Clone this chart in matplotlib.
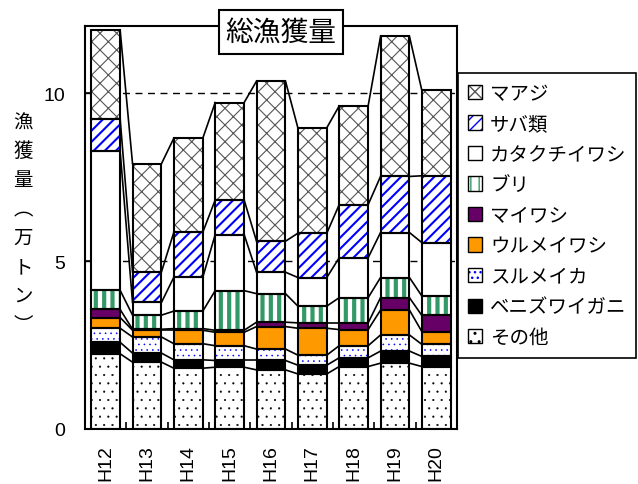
import numpy as np
import matplotlib
matplotlib.use('Agg')
import matplotlib.pyplot as plt
from matplotlib.patches import Patch

plt.rcParams['font.family'] = ['Noto Sans CJK JP', 'DejaVu Sans']

# data (万トン), stacked bottom -> top
years = ['H12', 'H13', 'H14', 'H15', 'H16', 'H17', 'H18', 'H19', 'H20']
sonota = [2.24, 1.99, 1.81, 1.84, 1.76, 1.64, 1.86, 1.96, 1.86]
benizuwai = [0.34, 0.27, 0.25, 0.20, 0.28, 0.26, 0.26, 0.36, 0.30]
surumeika = [0.42, 0.48, 0.48, 0.44, 0.34, 0.30, 0.36, 0.48, 0.36]
urumeiwashi = [0.32, 0.20, 0.40, 0.40, 0.67, 0.80, 0.48, 0.74, 0.38]
maiwashi = [0.24, 0.03, 0.05, 0.06, 0.13, 0.16, 0.20, 0.37, 0.48]
buri = [0.57, 0.42, 0.52, 1.18, 0.85, 0.50, 0.75, 0.60, 0.58]
katakuchi = [4.14, 0.38, 1.01, 1.67, 0.64, 0.85, 1.19, 1.34, 1.59]
saba = [0.97, 0.91, 1.34, 1.03, 0.92, 1.32, 1.58, 1.67, 1.99]
maaji = [2.64, 3.22, 2.80, 2.90, 4.77, 3.14, 2.94, 4.17, 2.54]

names = ['その他', 'ベニズワイガニ', 'スルメイカ', 'ウルメイワシ', 'マイワシ',
         'ブリ', 'カタクチイワシ', 'サバ類', 'マアジ']
series = [sonota, benizuwai, surumeika, urumeiwashi, maiwashi,
          buri, katakuchi, saba, maaji]
# (face, hatch, hatch colour, hatch linewidth)
styles = [
    ('white', '..', 'black', 0.3),
    ('black', None, 'black', 1.0),
    ('white', '...', '#0000ff', 0.4),
    ('#ff9900', None, 'black', 1.0),
    ('#660066', None, 'black', 1.0),
    ('white', '||', '#339966', 3.0),
    ('white', None, 'black', 1.0),
    ('white', '///', '#0000ff', 1.5),
    ('white', 'xx', '#555555', 0.8),
]

fig = plt.figure(figsize=(6.38, 4.85), dpi=100)
ax = fig.add_axes([85/638, 1-430/485, 372/638, 403/485])

x = np.arange(len(years))
w = 0.7
bottom = np.zeros(len(years))
tops = []
handles = []
for vals, (fc, hatch, hc, hlw), name in zip(series, styles, names):
    vals = np.array(vals)
    with plt.rc_context({'hatch.linewidth': hlw}):
        ax.bar(x, vals, w, bottom=bottom, color=fc, hatch=hatch,
               edgecolor=hc, linewidth=0, zorder=2)
        h1 = Patch(facecolor=fc, hatch=hatch, edgecolor=hc, linewidth=0)
    ax.bar(x, vals, w, bottom=bottom, facecolor='none',
           edgecolor='black', linewidth=1.5, zorder=3)
    h2 = Patch(facecolor='none', edgecolor='black', linewidth=1)
    handles.append((h1, h2))
    bottom = bottom + vals
    tops.append(bottom.copy())

# series lines between neighbouring bars
for lvl in tops:
    for i in range(len(years) - 1):
        ax.plot([x[i] + w/2, x[i+1] - w/2], [lvl[i], lvl[i+1]],
                color='black', linewidth=1.2, zorder=3)

for g in [5, 10]:
    ax.axhline(g, color='black', linestyle=(0, (5, 4)), linewidth=1, zorder=1)

ax.set_xlim(-0.5, len(years) - 0.5)
ax.set_ylim(0, 12)
ax.set_yticks([0, 5, 10])
ax.set_xticks(x)
ax.set_xticklabels(years, rotation=90, fontsize=14, family='Liberation Sans')
ax.set_yticklabels(['0', '5', '10'], fontsize=14, family='Liberation Sans')
ax.set_xticks(np.arange(0.5, len(years) - 1, 1), minor=True)
ax.tick_params(axis='x', which='major', length=0, pad=11)
ax.tick_params(axis='x', which='minor', direction='in', length=5, width=1.2)
ax.tick_params(axis='y', direction='in', length=6, width=1.2, pad=14)
for s in ax.spines.values():
    s.set_linewidth(1.5)

fig.text(281/638, 1-33/485, '総漁獲量', fontsize=20, ha='center', va='center',
         bbox=dict(boxstyle='square,pad=0.25', facecolor='white', edgecolor='black', linewidth=1.5))

ylab = '漁獲量︵万トン︶'
for k, ch in enumerate(ylab):
    fig.text(23/638, 1-(123 + k*28.9)/485, ch, fontsize=14, ha='center', va='center')

leg = fig.legend(handles[::-1], names[::-1], loc='upper left',
                 bbox_to_anchor=(458/638, 1-74/485), fontsize=14,
                 handlelength=0.75, handleheight=0.75, handletextpad=0.4,
                 labelspacing=0.49, borderpad=0.5, borderaxespad=0,
                 fancybox=False, edgecolor='black', framealpha=1)
leg.get_frame().set_linewidth(1.2)

plt.savefig('out.png', dpi=100)
